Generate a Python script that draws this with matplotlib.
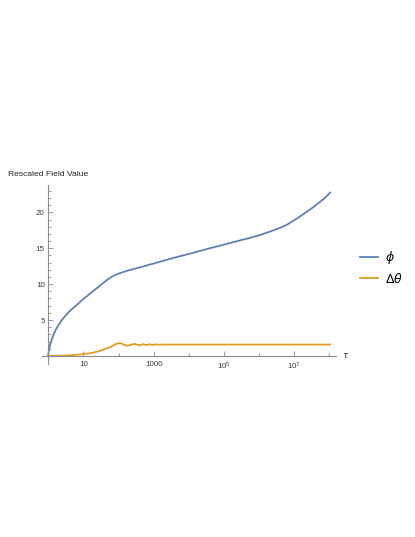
import numpy as np
import matplotlib
matplotlib.use("Agg")
import matplotlib.pyplot as plt
from matplotlib.ticker import FixedLocator, NullFormatter

# valeurs (abscisse en log10 de tau)
log_tau_phi = [0, 0.005, 0.01, 0.02, 0.04, 0.08, 0.12, 0.17, 0.23, 0.3, 0.38, 0.47,
               0.6, 0.75, 0.9, 1.03, 1.18, 1.32, 1.46, 1.6, 1.72, 1.82, 1.92,
               2.03, 2.2, 2.43, 2.8, 3.2, 3.6, 4.0, 4.3, 4.6, 5.0, 5.46, 5.75,
               6.03, 6.3, 6.6, 6.8, 6.98, 7.17, 7.36, 7.55, 7.73, 7.88, 8.02]
phi = [0, 0.4, 0.6, 0.9, 1.3, 2.0, 2.6, 3.2, 3.8, 4.4, 4.95, 5.5,
       6.2, 6.85, 7.5, 8.05, 8.65, 9.2, 9.75, 10.3, 10.75, 11.05, 11.3,
       11.5, 11.8, 12.1, 12.6, 13.15, 13.7, 14.2, 14.6, 15.0, 15.5, 16.1, 16.45,
       16.85, 17.3, 17.85, 18.3, 18.85, 19.45, 20.1, 20.75, 21.45, 22.05, 22.75]

log_tau_dtheta = [0, 0.5, 0.8, 1.03, 1.2, 1.32, 1.46, 1.6, 1.7, 1.79, 1.88, 1.96,
                  2.02, 2.1, 2.18, 2.26, 2.35, 2.45, 2.52, 2.58, 2.64, 2.7, 2.76,
                  2.8, 2.85, 2.9, 2.95, 3.0, 3.05, 3.1, 3.15, 3.25, 8.02]
dtheta = [0, 0.05, 0.15, 0.28, 0.38, 0.5, 0.7, 0.93, 1.12, 1.3, 1.55, 1.72,
          1.77, 1.7, 1.5, 1.42, 1.55, 1.67, 1.58, 1.48, 1.55, 1.63, 1.55,
          1.5, 1.58, 1.61, 1.55, 1.54, 1.6, 1.58, 1.56, 1.58, 1.58]

x_ticks = [10, 1000, 1e5, 1e7]
x_labels = ["10", "1000", r"$\mathregular{10^5}$", r"$\mathregular{10^7}$"]
y_ticks = [5, 10, 15, 20]

blue = (0.368, 0.507, 0.710)
orange = (0.881, 0.611, 0.142)
gris = (0.55, 0.55, 0.55)

plt.rcParams["font.family"] = ["Liberation Sans", "DejaVu Sans"]

fig = plt.figure(figsize=(4.15, 5.37), dpi=100)
ax = fig.add_axes([0.102, 0.322, 0.708, 0.333])

l1, = ax.plot(10 ** np.array(log_tau_phi), phi, color=blue, lw=1.3, label=r"$\phi$")
l2, = ax.plot(10 ** np.array(log_tau_dtheta), dtheta, color=orange, lw=1.3,
              label=r"$\Delta\theta$")

ax.set_xscale("log")
ax.set_xlim(10 ** -0.17, 10 ** 8.19)
ax.set_ylim(-1.14, 23.77)

# axes style Mathematica
for s in ["top", "right"]:
    ax.spines[s].set_visible(False)
ax.spines["left"].set_position(("data", 1))
ax.spines["bottom"].set_position(("data", 0))
for s in ["left", "bottom"]:
    ax.spines[s].set_color(gris)
    ax.spines[s].set_linewidth(0.8)

ax.xaxis.set_major_locator(FixedLocator(x_ticks))
ax.set_xticklabels(x_labels)
ax.xaxis.set_minor_locator(FixedLocator([100, 1e4, 1e6, 1e8]))
ax.xaxis.set_minor_formatter(NullFormatter())
ax.yaxis.set_major_locator(FixedLocator(y_ticks))
ax.yaxis.set_minor_locator(FixedLocator([v for v in range(1, 24) if v % 5]))
ax.tick_params(which="both", direction="in", color=gris, width=0.6,
               labelsize=5.8, labelcolor=(0.25, 0.25, 0.25))
ax.tick_params(which="major", length=3.5, pad=2.5)
ax.tick_params(axis="x", which="major", pad=3.5)
ax.tick_params(which="minor", length=2)

fig.text(8 / 415, 1 - 174 / 537, "Rescaled Field Value", fontsize=6.1,
         color=(0.15, 0.15, 0.15), va="center", ha="left")
fig.text(342 / 415, 1 - 356 / 537, r"$\tau$", fontsize=6.5, color=(0.25, 0.25, 0.25),
         va="center", ha="left")

fig.legend(handles=[l1, l2], loc="upper left", bbox_to_anchor=(360 / 415, 1 - 249 / 537),
           frameon=False, fontsize=9, handlelength=1.45, handletextpad=0.55,
           borderpad=0, borderaxespad=0, labelspacing=0.45)

fig.savefig("out.png", dpi=100)
